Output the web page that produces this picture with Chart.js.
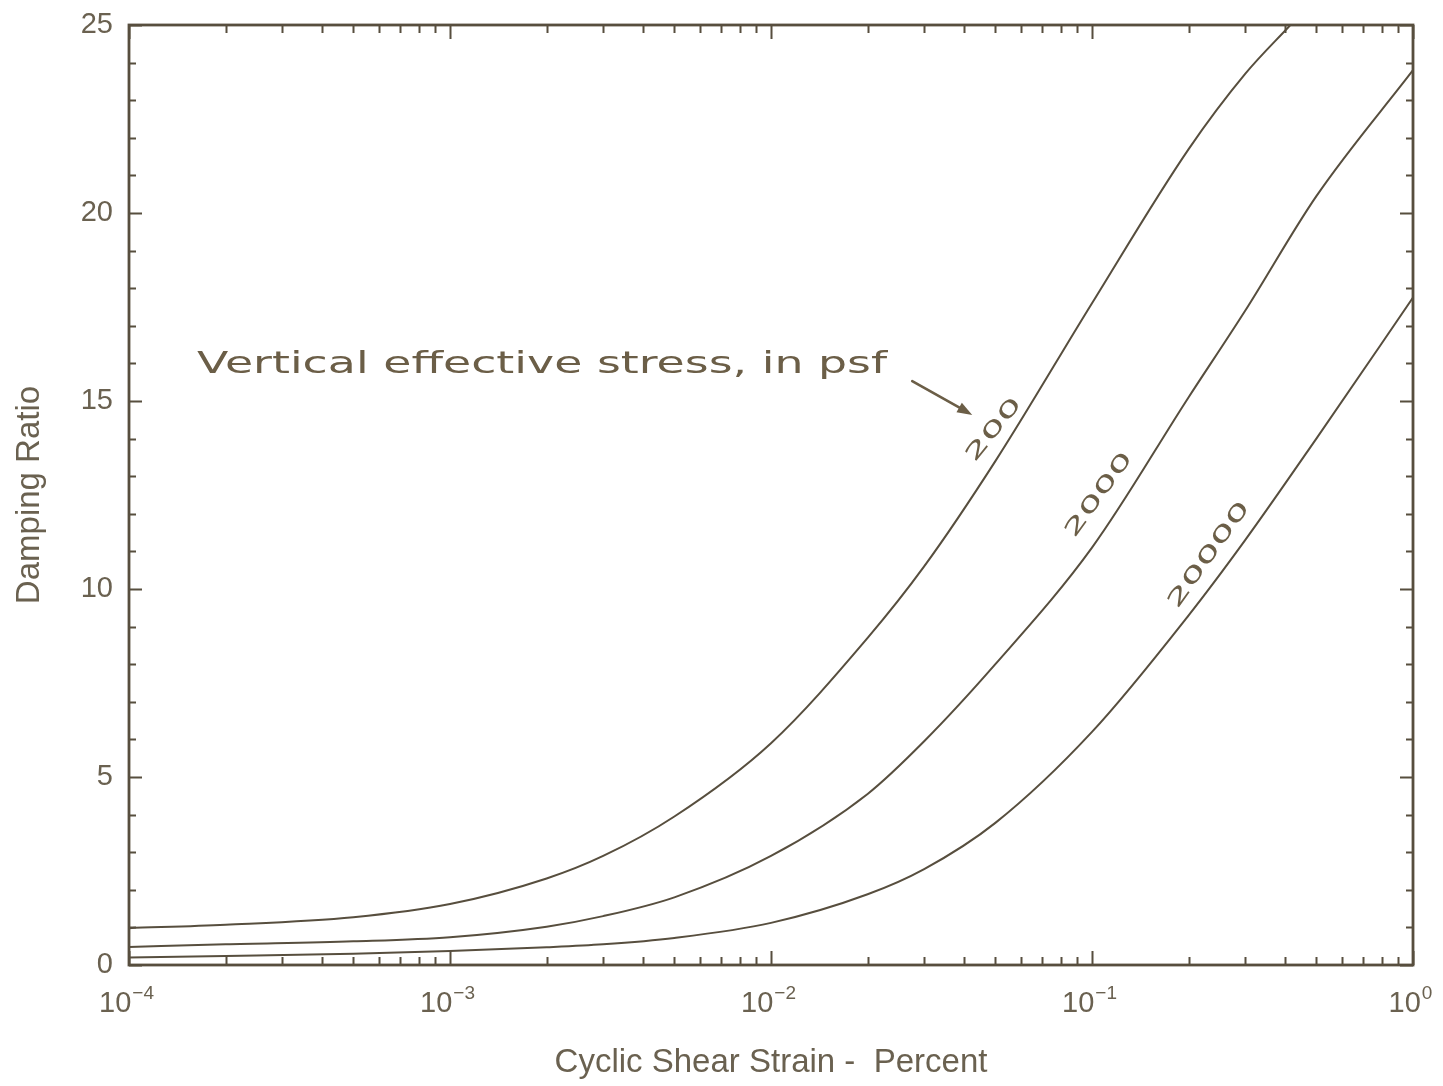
<!DOCTYPE html>
<html>
<head>
<meta charset="utf-8">
<script src="https://cdn.jsdelivr.net/npm/chart.js@4.4.0/dist/chart.umd.min.js"></script>
<style>
  html, body { margin: 0; background: #fff; }
  #wrap { width: 1443px; height: 1086px; position: relative; }
</style>
</head>
<body>
<div id="wrap"><canvas id="damping"></canvas></div>
<script>
// Damping ratio vs cyclic shear strain, one curve per vertical effective stress (psf)
const strain = [1e-4, 2e-4, 5e-4, 1e-3, 2e-3, 3e-3, 5e-3, 1e-2, 2e-2, 3e-2, 5e-2, 1e-1, 2e-1, 3e-1, 5e-1, 1];
const strain200 = [1e-4, 2e-4, 5e-4, 1e-3, 2e-3, 3e-3, 5e-3, 1e-2, 2e-2, 3e-2, 5e-2, 1e-1, 2e-1, 3e-1, 0.415];
const damping200 = [0.98, 1.07, 1.27, 1.62, 2.3, 2.9, 3.95, 5.9, 8.7, 10.6, 13.4, 17.6, 21.7, 23.7, 25];
const damping2000 = [0.48, 0.55, 0.63, 0.74, 1.02, 1.3, 1.8, 2.9, 4.55, 5.95, 8.0, 11.1, 15.1, 17.4, 20.45, 23.8];
const damping20000 = [0.2, 0.24, 0.3, 0.37, 0.47, 0.55, 0.72, 1.12, 1.88, 2.55, 3.78, 6.2, 9.3, 11.3, 14.0, 17.75];

const xTickExponents = [-4, -3, -2, -1, 0];
const yMax = 25;
const yStep = 5;

// handwritten notes, anchored in data units (strain, damping)
const curveLabels = ['200', '2000', '20000'];
const curveLabelAt = [[0.0496, 14.23], [0.1054, 12.5], [0.232, 10.9]];
const noteText = 'Vertical effective stress, in psf';
const noteAt = [0.001936, 15.96];
const arrowFrom = [0.02754, 15.53];
const arrowTo = [0.04236, 14.63];

const INK = '#574e3e';
const TEXT = '#6a6150';
const PEN = '#6b5e47';

function pts(xs, ys) {
    return xs.map((x, i) => ({ x: x, y: ys[i] }));
}

function stretchedText(ctx, text, cx, cy, angle, width, font) {
    ctx.save();
    ctx.translate(cx, cy);
    ctx.rotate(angle);
    ctx.font = font;
    const w = ctx.measureText(text).width;
    ctx.scale(width / w, 1);
    ctx.textAlign = 'center';
    ctx.textBaseline = 'middle';
    ctx.fillText(text, 0, 0);
    ctx.restore();
}

const framePlugin = {
    id: 'frame',
    afterDatasetsDraw(chart) {
        const ctx = chart.ctx;
        const { left, right, top, bottom } = chart.chartArea;
        const xs = chart.scales.x, ys = chart.scales.y;
        ctx.save();
        ctx.strokeStyle = INK;
        ctx.lineWidth = 2;
        ctx.beginPath();
        // x ticks, inward on bottom and top
        for (let e = -4; e <= 0; e++) {
            for (let m = 1; m <= 9; m++) {
                if (e === 0 && m > 1) break;
                const px = Math.round(xs.getPixelForValue(m * Math.pow(10, e))) + 0.5;
                const len = m === 1 ? 14 : 8;
                ctx.moveTo(px, bottom); ctx.lineTo(px, bottom - len);
                ctx.moveTo(px, top); ctx.lineTo(px, top + len);
            }
        }
        // y ticks, inward on left and right
        for (let v = 0; v <= yMax; v++) {
            const py = Math.round(ys.getPixelForValue(v)) + 0.5;
            const len = v % yStep === 0 ? 13 : 7;
            ctx.moveTo(left, py); ctx.lineTo(left + len, py);
            ctx.moveTo(right, py); ctx.lineTo(right - len, py);
        }
        ctx.stroke();
        ctx.lineWidth = 2.8;
        ctx.strokeRect(left, top, right - left, bottom - top);

        // x tick labels with superscript exponents
        ctx.fillStyle = TEXT;
        ctx.textBaseline = 'alphabetic';
        ctx.textAlign = 'left';
        xTickExponents.forEach(e => {
            const px = xs.getPixelForValue(Math.pow(10, e));
            const base = '10';
            const sup = e < 0 ? '\u2212' + Math.abs(e) : String(e);
            ctx.font = '29px "Liberation Sans", Arial, sans-serif';
            const wb = ctx.measureText(base).width;
            ctx.font = '19px "Liberation Sans", Arial, sans-serif';
            const ws = ctx.measureText(sup).width;
            const x0 = px - (wb + ws) / 2 - 3;
            ctx.font = '29px "Liberation Sans", Arial, sans-serif';
            ctx.fillText(base, x0, 1012);
            ctx.font = '19px "Liberation Sans", Arial, sans-serif';
            ctx.fillText(sup, x0 + wb + 1, 999);
        });
        ctx.restore();
    },
    afterDraw(chart) {
        const ctx = chart.ctx;
        const xs = chart.scales.x, ys = chart.scales.y;
        ctx.save();
        ctx.fillStyle = PEN;
        ctx.strokeStyle = PEN;
        // note sentence
        stretchedText(ctx, noteText, xs.getPixelForValue(noteAt[0]), ys.getPixelForValue(noteAt[1]),
            0, 690, '30px "DejaVu Sans", sans-serif');
        // rotated curve labels
        const widths = [76, 100, 126];
        const angles = [-51, -54, -54.5];
        curveLabels.forEach((t, i) => {
            stretchedText(ctx, t, xs.getPixelForValue(curveLabelAt[i][0]), ys.getPixelForValue(curveLabelAt[i][1]),
                angles[i] * Math.PI / 180, widths[i], '21px "DejaVu Sans", sans-serif');
        });
        // arrow
        const x1 = xs.getPixelForValue(arrowFrom[0]), y1 = ys.getPixelForValue(arrowFrom[1]);
        const x2 = xs.getPixelForValue(arrowTo[0]), y2 = ys.getPixelForValue(arrowTo[1]);
        const a = Math.atan2(y2 - y1, x2 - x1);
        ctx.lineWidth = 2.6;
        ctx.lineCap = 'round';
        ctx.beginPath();
        ctx.moveTo(x1, y1);
        ctx.lineTo(x2 - 8 * Math.cos(a), y2 - 8 * Math.sin(a));
        ctx.stroke();
        ctx.beginPath();
        ctx.moveTo(x2, y2);
        ctx.lineTo(x2 - 16 * Math.cos(a - 0.35), y2 - 16 * Math.sin(a - 0.35));
        ctx.lineTo(x2 - 16 * Math.cos(a + 0.35), y2 - 16 * Math.sin(a + 0.35));
        ctx.closePath();
        ctx.fill();
        ctx.restore();
    }
};

function curve(label, xs, ys) {
    return {
        label: label,
        data: pts(xs, ys),
        borderColor: INK,
        borderWidth: 2,
        pointRadius: 0,
        fill: false,
        cubicInterpolationMode: 'monotone'
    };
}

new Chart(document.getElementById('damping'), {
    type: 'line',
    data: {
        datasets: [
            curve('200', strain200, damping200),
            curve('2000', strain, damping2000),
            curve('20000', strain, damping20000)
        ]
    },
    options: {
        responsive: true,
        maintainAspectRatio: false,
        animation: false,
        events: [],
        layout: { padding: { top: 25, right: 30, left: 0, bottom: 0 } },
        plugins: {
            legend: { display: false },
            tooltip: { enabled: false }
        },
        scales: {
            x: {
                type: 'logarithmic',
                min: 1e-4,
                max: 1,
                grid: { display: false, drawTicks: false },
                border: { display: false },
                ticks: { display: false },
                afterFit: s => { s.height = 121; s.paddingLeft = 0; s.paddingRight = 0; },
                title: {
                    display: true,
                    text: 'Cyclic Shear Strain -  Percent',
                    color: TEXT,
                    font: { family: '"Liberation Sans", Arial, sans-serif', size: 33 },
                    padding: { top: 0, bottom: 3 }
                }
            },
            y: {
                type: 'linear',
                min: 0,
                max: yMax,
                grid: { display: false, drawTicks: false },
                border: { display: false },
                ticks: {
                    stepSize: yStep,
                    padding: 16,
                    color: TEXT,
                    font: { family: '"Liberation Sans", Arial, sans-serif', size: 29 }
                },
                afterFit: s => { s.width = 129; s.paddingTop = 0; s.paddingBottom = 0; },
                title: {
                    display: true,
                    text: 'Damping Ratio',
                    color: TEXT,
                    font: { family: '"Liberation Sans", Arial, sans-serif', size: 33 },
                    padding: { top: 10, bottom: 0 }
                }
            }
        }
    },
    plugins: [framePlugin]
});
</script>
</body>
</html>
